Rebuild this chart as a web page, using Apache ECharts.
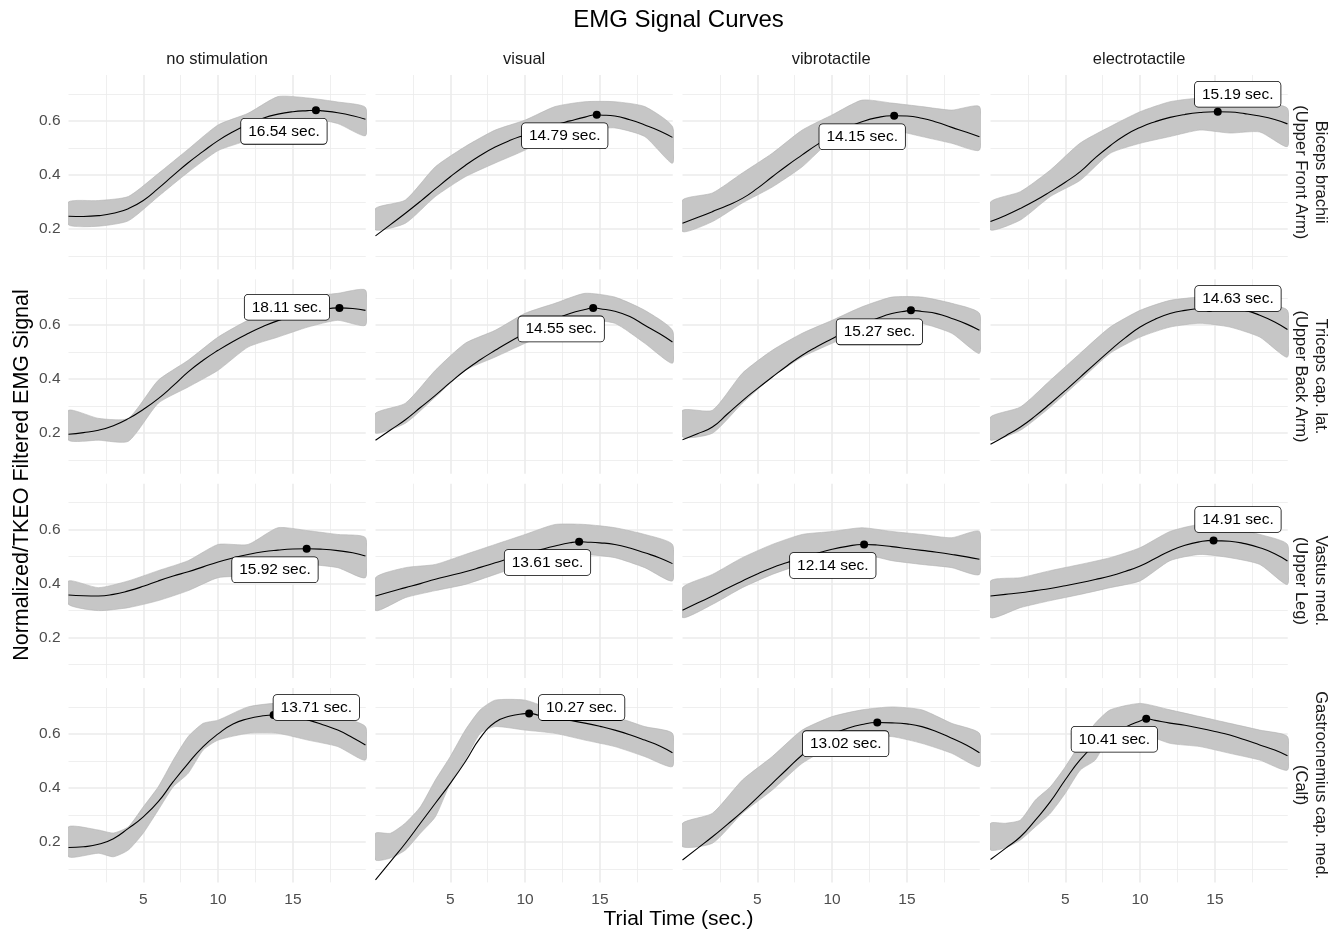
<!DOCTYPE html>
<html><head><meta charset="utf-8">
<script src="https://cdn.jsdelivr.net/npm/echarts@6/dist/echarts.min.js"></script>
<style>html,body{margin:0;padding:0;background:#fff}#c{width:1338px;height:934px}</style>
</head><body><div id="c"></div>
<script>
// ---------------- DATA ----------------
const chartTitle = 'EMG Signal Curves';
const conditions = ['no stimulation', 'visual', 'vibrotactile', 'electrotactile'];
const muscles = ['Biceps brachii\n(Upper Front Arm)', 'Triceps cap. lat.\n(Upper Back Arm)', 'Vastus med.\n(Upper Leg)', 'Gastrocnemius cap. med.\n(Calf)'];
const xTickValues = [5, 10, 15];
const yTickValues = [0.2, 0.4, 0.6];
const xMinorGrid = [2.5, 7.5, 12.5, 17.5];
const yMinorGrid = [0.1, 0.3, 0.5, 0.7];

// times (sec.) at which the fitted curves were read
const curveTimes = [0,1,2,3,4,5,6,7,8,9,10,11,12,13,14,15,16,17,18,19,19.85];

// fitted curves, one array per condition (columns)
const bicepsCurve = [
  [.247,.246,.249,.258,.275,.305,.350,.398,.445,.487,.527,.560,.587,.610,.625,.634,.638,.637,.630,.619,.606],
  [.174,.216,.258,.302,.348,.393,.435,.472,.503,.528,.548,.567,.585,.600,.614,.622,.618,.604,.585,.563,.539],
  [.221,.242,.264,.287,.313,.350,.393,.435,.474,.512,.545,.575,.597,.612,.619,.618,.610,.595,.576,.558,.541],
  [.227,.250,.276,.305,.338,.373,.412,.463,.508,.547,.576,.597,.613,.624,.631,.634,.633,.627,.618,.605,.589]
];
const tricepsCurve = [
  [.196,.202,.211,.228,.254,.288,.328,.376,.427,.470,.507,.540,.569,.595,.617,.634,.648,.658,.664,.662,.655],
  [.174,.212,.250,.295,.340,.388,.433,.472,.507,.540,.569,.597,.622,.643,.658,.661,.652,.632,.600,.568,.538],
  [.176,.198,.223,.271,.320,.365,.408,.450,.489,.521,.550,.578,.603,.625,.643,.653,.651,.643,.625,.604,.581],
  [.159,.190,.223,.264,.310,.358,.408,.458,.507,.553,.593,.622,.643,.655,.662,.663,.662,.655,.637,.612,.584]
];
const vastusCurve = [
  [.358,.355,.354,.360,.373,.390,.410,.428,.444,.462,.480,.495,.508,.518,.524,.528,.529,.527,.522,.514,.502],
  [.354,.370,.385,.400,.416,.430,.444,.460,.477,.494,.510,.525,.539,.551,.554,.551,.545,.532,.514,.495,.474],
  [.301,.328,.354,.383,.410,.436,.459,.478,.496,.512,.527,.538,.545,.543,.537,.530,.523,.516,.508,.499,.490],
  [.354,.360,.366,.374,.382,.392,.403,.415,.428,.445,.465,.493,.521,.542,.555,.559,.557,.548,.533,.511,.484]
];
const gastroCurve = [
  [.179,.182,.191,.212,.250,.293,.349,.423,.491,.553,.600,.637,.656,.667,.669,.666,.652,.634,.614,.586,.559],
  [.059,.127,.195,.269,.343,.417,.497,.585,.643,.666,.675,.668,.659,.650,.640,.628,.614,.597,.577,.555,.530],
  [.133,.176,.219,.265,.312,.364,.417,.470,.522,.565,.598,.620,.635,.642,.641,.637,.627,.608,.584,.558,.530],
  [.135,.176,.219,.281,.349,.430,.505,.560,.598,.625,.648,.650,.640,.632,.621,.609,.596,.578,.559,.540,.519]
];

// raw signal envelope: [time, low, high]
const bicepsSignal = [
  [[0,.215,.300],[2,.210,.305],[4,.230,.320],[6,.320,.405],[8,.410,.495],[10,.490,.585],[12,.530,.628],[14,.600,.690],[16,.610,.685],[18,.590,.670],[19.85,.545,.650]],
  [[0,.196,.276],[2,.221,.307],[4,.320,.430],[6,.393,.505],[8,.444,.566],[10,.492,.603],[12,.554,.653],[14,.566,.671],[16,.574,.671],[18,.542,.653],[19.85,.443,.579]],
  [[0,.190,.307],[2,.227,.333],[4,.296,.407],[6,.355,.480],[8,.430,.566],[10,.530,.622],[12,.566,.677],[14,.566,.666],[16,.542,.653],[18,.517,.640],[19.85,.492,.653]],
  [[0,.196,.300],[2,.233,.338],[4,.320,.418],[6,.380,.518],[8,.480,.579],[10,.517,.634],[12,.542,.671],[14,.566,.684],[16,.555,.671],[18,.559,.666],[19.85,.505,.647]]
];
const tricepsSignal = [
  [[0,.174,.285],[2,.174,.255],[4,.170,.255],[6,.311,.396],[8,.371,.470],[10,.433,.556],[12,.519,.618],[14,.556,.655],[16,.593,.704],[18,.618,.718],[19.85,.600,.730]],
  [[0,.200,.274],[2,.237,.311],[4,.334,.433],[6,.433,.533],[8,.482,.581],[10,.533,.644],[12,.581,.681],[14,.618,.718],[16,.607,.704],[18,.533,.655],[19.85,.459,.581]],
  [[0,.186,.285],[2,.200,.285],[4,.311,.422],[6,.408,.507],[8,.482,.570],[10,.533,.618],[12,.581,.668],[14,.618,.704],[16,.607,.704],[18,.570,.681],[19.85,.496,.644]],
  [[0,.174,.260],[2,.211,.297],[4,.297,.396],[6,.396,.496],[8,.496,.593],[10,.556,.655],[12,.593,.692],[14,.607,.704],[16,.593,.704],[18,.556,.681],[19.85,.482,.655]]
];
const vastusSignal = [
  [[0,.323,.410],[2,.300,.385],[4,.311,.410],[6,.337,.448],[8,.374,.485],[10,.422,.545],[12,.430,.545],[14,.470,.607],[16,.471,.596],[18,.459,.582],[19.85,.422,.570]],
  [[0,.300,.422],[2,.348,.459],[4,.374,.471],[6,.397,.508],[8,.434,.545],[10,.471,.582],[12,.508,.619],[14,.508,.619],[16,.496,.607],[18,.459,.582],[19.85,.410,.545]],
  [[0,.274,.385],[2,.323,.434],[4,.385,.496],[6,.434,.545],[8,.471,.582],[10,.485,.593],[12,.508,.607],[14,.485,.593],[16,.471,.582],[18,.459,.570],[19.85,.434,.593]],
  [[0,.274,.410],[2,.311,.422],[4,.337,.448],[6,.360,.471],[8,.385,.496],[10,.410,.533],[12,.485,.593],[14,.508,.619],[16,.496,.607],[18,.471,.582],[19.85,.397,.545]]
];
const gastroSignal = [
  [[0,.145,.256],[2,.158,.244],[3,.145,.233],[4,.170,.256],[5,.233,.330],[6,.318,.404],[7,.404,.503],[8,.454,.590],[9,.540,.639],[10,.577,.651],[12,.602,.700],[14,.602,.713],[16,.577,.689],[18,.553,.664],[19.85,.503,.627]],
  [[0,.133,.232],[1,.140,.232],[2,.170,.270],[3,.232,.330],[4,.293,.429],[5,.417,.516],[6,.503,.614],[7,.602,.689],[8,.627,.725],[10,.614,.725],[12,.602,.689],[14,.577,.689],[16,.553,.664],[18,.516,.627],[19.85,.479,.602]],
  [[0,.182,.269],[2,.195,.306],[4,.306,.429],[6,.392,.516],[8,.491,.614],[10,.553,.664],[12,.590,.689],[14,.590,.700],[16,.565,.689],[18,.528,.639],[19.85,.479,.602]],
  [[0,.170,.269],[1,.178,.269],[2,.207,.281],[3,.256,.355],[4,.306,.404],[5,.380,.478],[6,.466,.565],[7,.503,.639],[8,.590,.689],[10,.602,.713],[12,.565,.689],[14,.553,.664],[16,.528,.639],[18,.503,.614],[19.85,.466,.590]]
];

// peak times (sec.) and values
const peakTimes = [
  [16.54, 14.79, 14.15, 15.19],
  [18.11, 14.55, 15.27, 14.63],
  [15.92, 13.61, 12.14, 14.91],
  [13.71, 10.27, 13.02, 10.41]
];
const peakValues = [
  [.639, .623, .619, .634],
  [.664, .664, .655, .664],
  [.529, .555, .545, .560],
  [.670, .676, .642, .656]
];

// ---------------- LAYOUT / STYLE ----------------
const curves = [bicepsCurve, tricepsCurve, vastusCurve, gastroCurve];
const signals = [bicepsSignal, tricepsSignal, vastusSignal, gastroSignal];
const colX0 = [68.5, 375.5, 682.5, 990.5];
const rowY0 = [75, 279.3, 483.7, 688];
const X_MIN = 0, X_MAX = 19.87, Y_MIN = 0.05, Y_MAX = 0.77;
const PX_X = 14.96, PX_Y = 270;
const labelOffsets = [
  [[-32,21],[-32,21],[-32,21],[20,-17.5]],
  [[-52.5,-0.7],[-32,21],[-31.5,21.5],[28.6,-9.4]],
  [[-31.7,21],[-31.6,20.8],[-31.3,21],[24.4,-20.9]],
  [[42.7,-7.5],[52.5,-5.8],[-31.6,21.1],[-31.9,20.5]]
];
const FONT = '"Liberation Sans", Arial, Helvetica, sans-serif';
const GRID_COLOR = '#ebebeb';

const grids = [], xAxes = [], yAxes = [], series = [], graphics = [];
for (let r = 0; r < 4; r++) {
  for (let c = 0; c < 4; c++) {
    const i = r * 4 + c;
    grids.push({left: colX0[c], top: rowY0[r], width: (X_MAX - X_MIN) * PX_X, height: (Y_MAX - Y_MIN) * PX_Y, containLabel: false});
    xAxes.push({
      type: 'value', gridIndex: i, min: X_MIN, max: X_MAX, interval: 5,
      axisLine: {show: false}, axisTick: {show: false}, splitLine: {show: false},
      axisLabel: {show: r === 3, showMinLabel: false, showMaxLabel: false, color: '#4d4d4d', fontSize: 15.5, fontFamily: FONT, margin: 9,
        formatter: v => (xTickValues.indexOf(v) >= 0 ? String(v) : '')}
    });
    yAxes.push({
      type: 'value', gridIndex: i, min: Y_MIN, max: Y_MAX,
      axisLine: {show: false}, axisTick: {show: false}, splitLine: {show: false},
      axisLabel: {show: c === 0, customValues: yTickValues, color: '#4d4d4d', fontSize: 15.5, fontFamily: FONT, margin: 8,
        formatter: v => v.toFixed(1)}
    });
    const sig = signals[r][c];
    const gridLines = [];
    xMinorGrid.forEach(v => gridLines.push({xAxis: v, lineStyle: {color: GRID_COLOR, width: 0.8, type: 'solid'}}));
    yMinorGrid.forEach(v => gridLines.push({yAxis: v, lineStyle: {color: GRID_COLOR, width: 0.8, type: 'solid'}}));
    xTickValues.forEach(v => gridLines.push({xAxis: v, lineStyle: {color: GRID_COLOR, width: 1.6, type: 'solid'}}));
    yTickValues.forEach(v => gridLines.push({yAxis: v, lineStyle: {color: GRID_COLOR, width: 1.6, type: 'solid'}}));
    // gray band of the raw signal
    series.push({
      type: 'custom', xAxisIndex: i, yAxisIndex: i, z: 2, silent: true, clip: true,
      data: [[sig[0][0], sig[0][1]]],
      renderItem: (params, api) => {
        const upper = sig.map(s => api.coord([s[0], s[2]]));
        const lower = sig.slice().reverse().map(s => api.coord([s[0], s[1]]));
        return {type: 'polygon', shape: {points: upper.concat(lower), smooth: 0.2},
          style: {fill: '#c6c6c6', stroke: '#b3b3b3', lineWidth: 0.6}};
      },
      markLine: {silent: true, symbol: 'none', z: 1, animation: false, label: {show: false}, data: gridLines}
    });
    const pts = curveTimes.map((t, k) => [t, curves[r][c][k]]);
    pts.push([peakTimes[r][c], peakValues[r][c]]);
    pts.sort((a, b) => a[0] - b[0]);
    series.push({
      type: 'line', xAxisIndex: i, yAxisIndex: i, z: 3, data: pts, symbol: 'none', smooth: 0.5,
      lineStyle: {color: '#000', width: 1.1}, silent: true
    });
    series.push({
      type: 'scatter', xAxisIndex: i, yAxisIndex: i, z: 4, symbolSize: 8, itemStyle: {color: '#000', opacity: 1},
      data: [{value: [peakTimes[r][c], peakValues[r][c]], label: {offset: labelOffsets[r][c]}}],
      label: {show: true, position: 'inside', formatter: p => p.value[0].toFixed(2) + ' sec.',
        color: '#000', fontSize: 15.5, fontFamily: FONT, backgroundColor: '#ffffff', borderColor: '#000', borderWidth: 0.8,
        borderRadius: 3.5, padding: [4, 7, 4, 7], lineHeight: 17, opacity: 1}
    });
  }
}
conditions.forEach((name, c) => {
  graphics.push({type: 'text', x: colX0[c] + (X_MAX - X_MIN) * PX_X / 2, y: 59,
    style: {text: name, fill: '#1a1a1a', font: '16.5px ' + FONT, textAlign: 'center', textVerticalAlign: 'middle'}});
});
muscles.forEach((name, r) => {
  graphics.push({type: 'text', x: 1311, y: rowY0[r] + (Y_MAX - Y_MIN) * PX_Y / 2, rotation: -Math.PI / 2,
    style: {text: name, fill: '#1a1a1a', font: '16.5px ' + FONT, textAlign: 'center', textVerticalAlign: 'middle', lineHeight: 20}});
});
graphics.push({type: 'text', x: 678.5, y: 20,
  style: {text: chartTitle, fill: '#000', font: '24px ' + FONT, textAlign: 'center', textVerticalAlign: 'middle'}});
graphics.push({type: 'text', x: 678.5, y: 919,
  style: {text: 'Trial Time (sec.)', fill: '#000', font: '21px ' + FONT, textAlign: 'center', textVerticalAlign: 'middle'}});
graphics.push({type: 'text', x: 22, y: 475, rotation: Math.PI / 2,
  style: {text: 'Normalized/TKEO Filtered EMG Signal', fill: '#000', font: '21.5px ' + FONT, textAlign: 'center', textVerticalAlign: 'middle'}});

const chart = echarts.init(document.getElementById('c'), null, {renderer: 'canvas'});
chart.setOption({
  backgroundColor: '#fff',
  animation: false,
  grid: grids, xAxis: xAxes, yAxis: yAxes, series: series, graphic: graphics
});
</script></body></html>
